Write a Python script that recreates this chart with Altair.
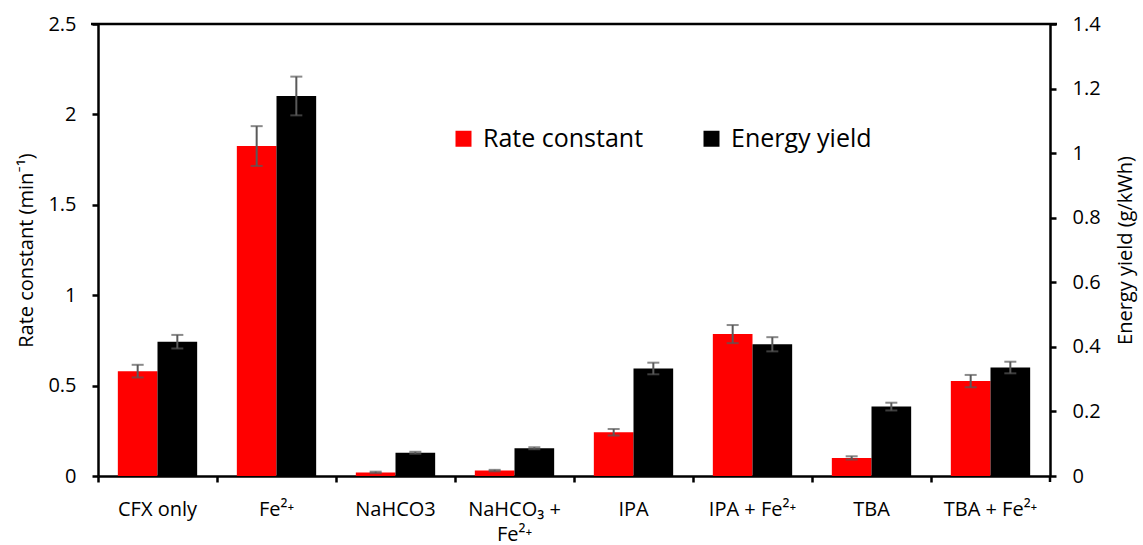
import altair as alt
import pandas as pd

# Treatments along the x axis
categories = [
    "CFX only", "Fe²⁺", "NaHCO3", "NaHCO₃ + Fe²⁺",
    "IPA", "IPA + Fe²⁺", "TBA", "TBA + Fe²⁺",
]

# Pseudo-first-order rate constant (min⁻¹) and its standard deviation
rate_constant = [0.58, 1.825, 0.02, 0.03, 0.242, 0.785, 0.10, 0.525]
rate_err = [0.035, 0.11, 0.004, 0.004, 0.018, 0.05, 0.009, 0.034]

# Energy yield (g/kWh) and its standard deviation
energy_yield = [0.416, 1.177, 0.072, 0.086, 0.333, 0.408, 0.215, 0.336]
energy_err = [0.021, 0.06, 0.003, 0.003, 0.018, 0.022, 0.012, 0.018]

series_names = ["Rate constant", "Energy yield"]
series_colors = ["#FF0000", "#000000"]

left_ticks = [0, 0.5, 1, 1.5, 2, 2.5]
right_ticks = [0, 0.2, 0.4, 0.6, 0.8, 1, 1.2, 1.4]

FONT = "'Open Sans', Lato, 'DejaVu Sans', sans-serif"
ERR_COLOR = "#595959"

W, H = 952, 452


def frame(name, vals, errs):
    df = pd.DataFrame({"category": categories, "series": name, "v": vals, "e": errs})
    df["lo"] = df["v"] - df["e"]
    df["hi"] = df["v"] + df["e"]
    return df


x_enc = alt.X(
    "category:N",
    sort=categories,
    scale=alt.Scale(paddingInner=0, paddingOuter=0),
    axis=alt.Axis(
        title=None,
        bandPosition=0,
        labelAngle=0,
        labelFontSize=20,
        labelPadding=17,
        labelLineHeight=25,
        labelLimit=200,
        labelExpr="datum.value == 'NaHCO₃ + Fe²⁺' ? ['NaHCO₃ +', 'Fe²⁺'] : datum.label",
    ),
)
xoff_enc = alt.XOffset(
    "series:N",
    sort=series_names,
    scale=alt.Scale(domain=series_names, paddingInner=0, paddingOuter=0.5),
)
color_enc = alt.Color(
    "series:N",
    scale=alt.Scale(domain=series_names, range=series_colors),
    legend=alt.Legend(
        orient="none",
        legendX=353,
        legendY=102,
        direction="horizontal",
        title=None,
        symbolType="square",
        symbolSize=256,
        symbolStrokeWidth=0,
        labelFontSize=25,
        labelFont=FONT,
        labelColor="black",
        labelOffset=7,
        labelLimit=300,
        columnPadding=55,
    ),
)


def series_layer(df, title, domain, ticks, orient, title_pad, title_extra):
    axis = alt.Axis(
        title=title,
        orient=orient,
        values=ticks,
        format="~g",
        labelFontSize=20,
        labelPadding=16,
        titleFontSize=20,
        titlePadding=title_pad,
        **title_extra,
    )
    scale = alt.Scale(domain=domain, nice=False, zero=True)
    base = alt.Chart(df)
    bars = base.mark_bar().encode(
        x=x_enc, xOffset=xoff_enc, color=color_enc,
        y=alt.Y("v:Q", scale=scale, axis=axis),
    )
    stem = base.mark_rule(color=ERR_COLOR, strokeWidth=2).encode(
        x=x_enc, xOffset=xoff_enc,
        y=alt.Y("lo:Q", scale=scale, axis=axis), y2="hi:Q",
    )
    cap_lo = base.mark_tick(color=ERR_COLOR, thickness=2, size=12).encode(
        x=x_enc, xOffset=xoff_enc,
        y=alt.Y("lo:Q", scale=scale, axis=axis),
    )
    cap_hi = base.mark_tick(color=ERR_COLOR, thickness=2, size=12).encode(
        x=x_enc, xOffset=xoff_enc,
        y=alt.Y("hi:Q", scale=scale, axis=axis),
    )
    return alt.layer(bars, stem, cap_lo, cap_hi)


rate_layer = series_layer(
    frame("Rate constant", rate_constant, rate_err),
    "Rate constant (min⁻¹)", [0, 2.5], left_ticks, "left", 11, {},
)
energy_layer = series_layer(
    frame("Energy yield", energy_yield, energy_err),
    "Energy yield (g/kWh)", [0, 1.4], right_ticks, "right", 15,
    {"titleAngle": 270, "titleBaseline": "top"},
)

# Frame line across the top of the plot and the closing tick of the x axis
anchor = pd.DataFrame({"k": [0]})
top_line = alt.Chart(anchor).mark_rule(color="black", strokeWidth=2.5).encode(
    x=alt.value(-7), x2=alt.value(W + 7), y=alt.value(0),
)
end_tick = alt.Chart(anchor).mark_rule(color="black", strokeWidth=2.5).encode(
    x=alt.value(W), y=alt.value(H), y2=alt.value(H + 6),
)

chart = (
    alt.layer(rate_layer, energy_layer, top_line, end_tick)
    .resolve_scale(y="independent")
    .properties(
        width=W,
        height=H,
        autosize=alt.AutoSizeParams(type="none"),
        padding={"left": 98, "top": 24, "right": 93, "bottom": 69},
        background="white",
    )
    .configure_view(stroke=None)
    .configure_axis(
        domainColor="black",
        domainWidth=2.5,
        tickColor="black",
        tickWidth=2.5,
        tickSize=6,
        labelColor="black",
        titleColor="black",
        labelFont=FONT,
        titleFont=FONT,
        titleFontWeight="normal",
        grid=False,
    )
)

chart.save("out.html", embed_options={"renderer": "svg", "actions": False})
